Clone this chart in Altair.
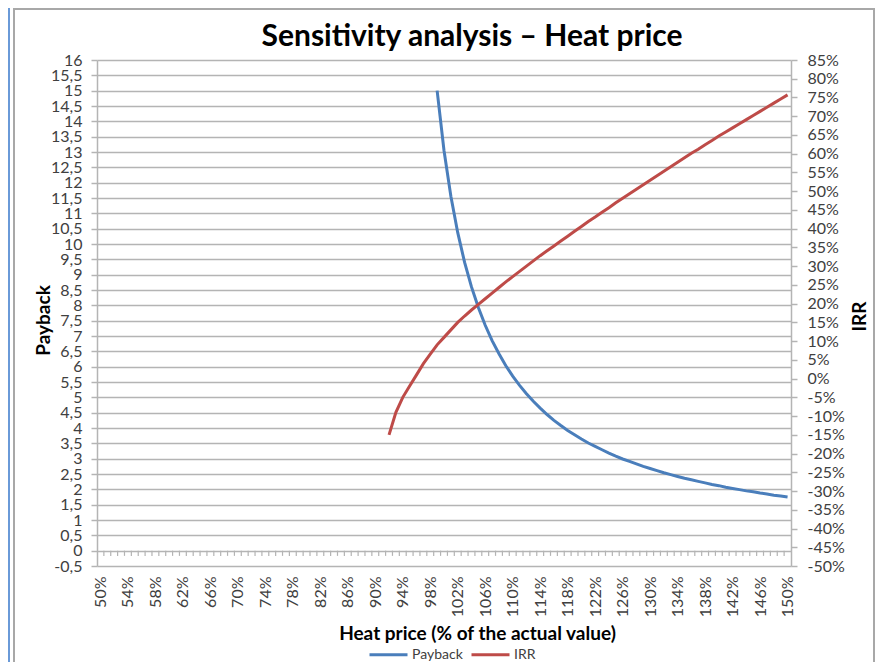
import altair as alt
import pandas as pd

# ---------------- data ----------------
payback_price = list(range(99, 151))
payback_years = [15.0, 13.05, 11.56, 10.37, 9.40, 8.60, 7.93, 7.35, 6.85, 6.42,
                 6.03, 5.69, 5.39, 5.12, 4.87, 4.65, 4.44, 4.25, 4.08, 3.92,
                 3.78, 3.64, 3.51, 3.40, 3.29, 3.18, 3.08, 2.99, 2.91, 2.83,
                 2.75, 2.68, 2.61, 2.54, 2.48, 2.42, 2.36, 2.31, 2.26, 2.21,
                 2.16, 2.12, 2.07, 2.03, 1.99, 1.95, 1.92, 1.88, 1.85, 1.81,
                 1.78, 1.75]

irr_price = list(range(92, 151))
irr_pct = [-15, -9, -5, -2, 1, 4, 6.5, 9, 11, 13,
           15, 16.7, 18.3, 19.8, 21.3, 22.8, 24.3, 25.8, 27.2, 28.6,
           30, 31.4, 32.8, 34.1, 35.4, 36.7, 38, 39.3, 40.6, 41.9,
           43.1, 44.4, 45.6, 46.9, 48.1, 49.3, 50.5, 51.7, 52.9, 54.1,
           55.3, 56.5, 57.7, 58.9, 60.1, 61.2, 62.4, 63.5, 64.7, 65.8,
           66.9, 68.0, 69.1, 70.2, 71.3, 72.4, 73.5, 74.6, 75.7]

x_tick_labels = list(range(50, 151, 4))
left_ticks = [i / 2 for i in range(-1, 33)]
right_ticks = list(range(-50, 90, 5))
category_bounds = [k + 0.5 for k in range(50, 150)]
series_names = ["Payback", "IRR"]
series_colors = ["#4A7EBB", "#BE4B48"]

FONT = "Lato"
GRID = "#B4B4B4"
LABEL = "#404040"

df_pay = pd.DataFrame({"price": payback_price, "value": payback_years, "series": "Payback"})
df_irr = pd.DataFrame({"price": irr_price, "value": irr_pct, "series": "IRR"})
df_ticks = pd.DataFrame({"price": category_bounds, "value": 0.0, "value_end": -0.17})
one = pd.DataFrame({"a": [0]})

xscale = alt.Scale(domain=[49.5, 150.5], nice=False, zero=False)
yleft = alt.Scale(domain=[-0.5, 16], nice=False, zero=False)
yright = alt.Scale(domain=[-50, 85], nice=False, zero=False)

x_axis = alt.Axis(values=x_tick_labels, labelExpr="datum.value + '%'",
                  labelAngle=-90, labelFont=FONT, labelFontSize=16,
                  labelColor=LABEL, labelPadding=10, labelFlush=False,
                  labelOverlap=False, labelBound=False,
                  ticks=False, tickSize=0, domain=False, grid=False,
                  title="Heat price (% of the actual value)",
                  titleFont=FONT, titleFontSize=19, titleFontWeight="bold",
                  titleColor="black", titleX=380, titleY=73,
                  titleBaseline="alphabetic")
y_left_axis = alt.Axis(values=left_ticks,
                       labelExpr="replace(toString(datum.value), '.', ',')",
                       labelFont=FONT, labelFontSize=16, labelColor=LABEL,
                       labelPadding=9, labelOverlap=False, labelFlush=False,
                       labelBound=False,
                       grid=True, gridColor=GRID, gridWidth=1.5,
                       domainColor=GRID, domainWidth=1.5,
                       tickColor=GRID, tickSize=6, tickWidth=1.5,
                       title="Payback", titleFont=FONT, titleFontSize=19,
                       titleFontWeight="bold", titleColor="black",
                       titleX=-44, titleY=260)
y_right_axis = alt.Axis(orient="right", values=right_ticks,
                        labelExpr="toString(datum.value) + '%'",
                        labelFont=FONT, labelFontSize=16, labelColor=LABEL,
                        labelPadding=10, labelOverlap=False, labelFlush=False,
                        labelBound=False, grid=False,
                        domainColor=GRID, domainWidth=1.5,
                        tickColor=GRID, tickSize=6, tickWidth=1.5,
                        title="IRR", titleFont=FONT, titleFontSize=19,
                        titleFontWeight="bold", titleColor="black",
                        titleAngle=270, titleX=78, titleY=256)

color = alt.Color("series:N",
                  scale=alt.Scale(domain=series_names, range=series_colors),
                  legend=alt.Legend(title=None, orient="none", legendX=271, legendY=574,
                                    direction="horizontal", symbolType="stroke",
                                    symbolSize=1444, symbolStrokeWidth=3,
                                    labelFont=FONT, labelFontSize=14, labelColor=LABEL,
                                    labelOffset=3, columnPadding=2))

frame = alt.Chart(one).mark_rect(fill=None, stroke="#A8A8A8", strokeWidth=2).encode(
    x=alt.value(-83), x2=alt.value(777), y=alt.value(-51), y2=alt.value(640))
blue_edge = alt.Chart(one).mark_rule(color="#6A9AD8", strokeWidth=2).encode(
    x=alt.value(-88), y=alt.value(-60), y2=alt.value(640))

minor_ticks = alt.Chart(df_ticks).mark_rule(color=GRID, strokeWidth=1.2).encode(
    x=alt.X("price:Q", scale=xscale, axis=x_axis),
    y=alt.Y("value:Q", scale=yleft, axis=y_left_axis),
    y2="value_end:Q")

pay_line = alt.Chart(df_pay).mark_line(strokeWidth=3).encode(
    x=alt.X("price:Q", scale=xscale, axis=x_axis),
    y=alt.Y("value:Q", scale=yleft, axis=y_left_axis),
    color=color)

irr_line = alt.Chart(df_irr).mark_line(strokeWidth=3).encode(
    x=alt.X("price:Q", scale=xscale, axis=x_axis),
    y=alt.Y("value:Q", scale=yright, axis=y_right_axis),
    color=color)

left = alt.layer(minor_ticks, pay_line)
chart = alt.layer(frame, blue_edge, left, irr_line).resolve_scale(y="independent").properties(
    width=694, height=506,
    title=alt.TitleParams("Sensitivity analysis – Heat price", font=FONT, fontSize=30,
                          fontWeight="bold", color="black", anchor="middle",
                          frame="group", dx=28, dy=57),
    autosize=alt.AutoSizeParams(type="none"),
    padding={"left": 89, "top": 52, "right": 84, "bottom": 96},
).configure_view(stroke=None)

chart.save("out.html", embed_options={"renderer": "svg", "actions": False})
